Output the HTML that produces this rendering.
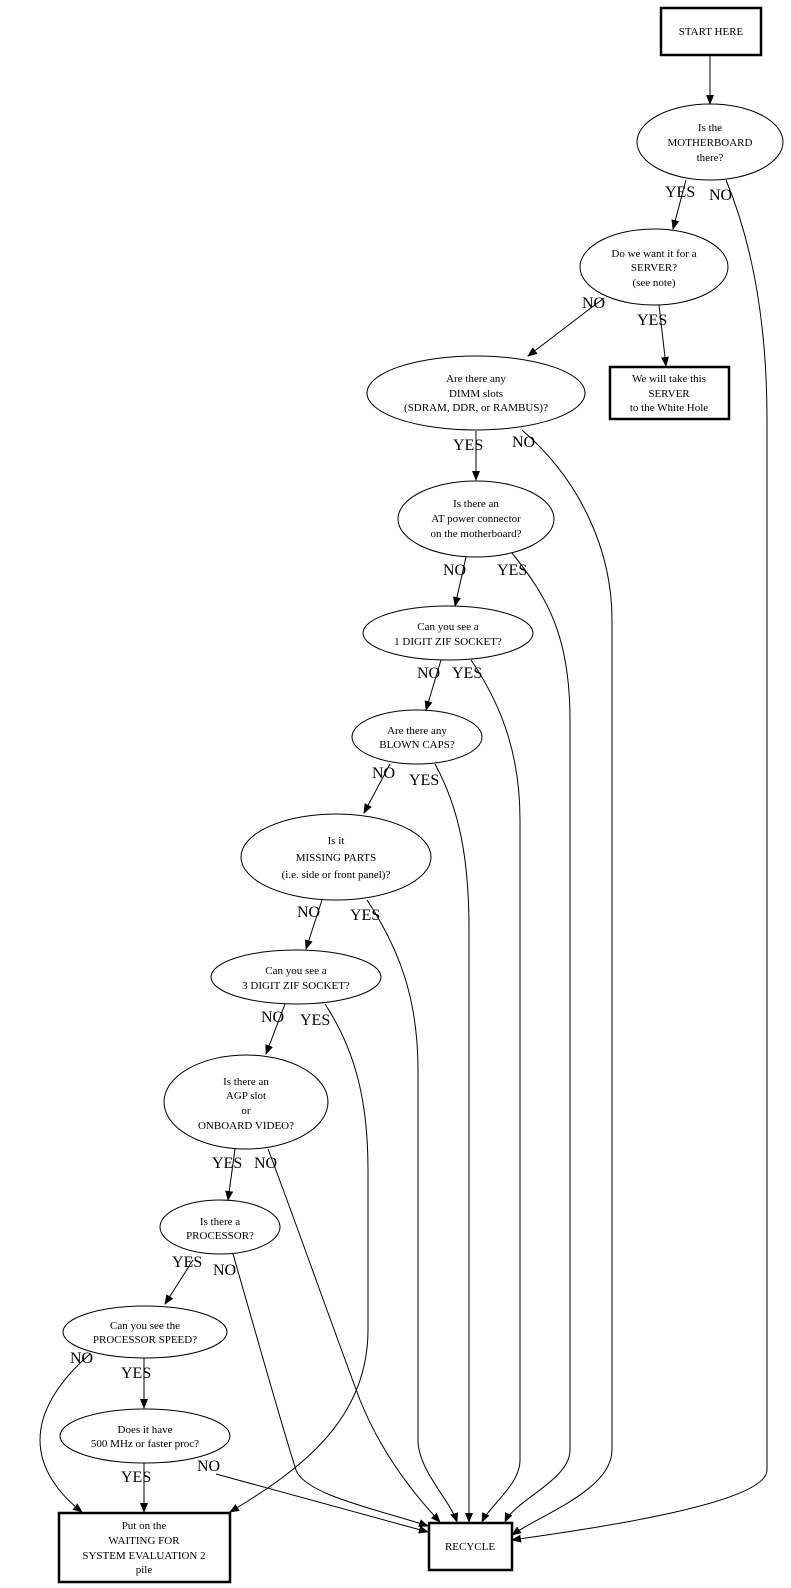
<!DOCTYPE html>
<html><head><meta charset="utf-8"><style>
html,body{margin:0;padding:0;background:#fff}
svg{display:block}
text{font-family:"Liberation Serif",serif;fill:#000}
.n{font-size:11px;text-anchor:middle}
.l{font-size:16px}
</style></head><body>
<svg width="791" height="1588" viewBox="0 0 791 1588" xmlns="http://www.w3.org/2000/svg">
<defs><marker id="a" markerWidth="10" markerHeight="8" refX="9" refY="4" orient="auto" markerUnits="userSpaceOnUse"><path d="M0,0 L10,4 L0,8 z" fill="#000"/></marker></defs>
<g fill="none" stroke="#000" stroke-width="1">
<!-- nodes -->
<rect x="661" y="8" width="100" height="47" stroke-width="2.5"/>
<ellipse cx="710" cy="142" rx="73" ry="38"/>
<ellipse cx="654" cy="267" rx="74" ry="38"/>
<rect x="610" y="367" width="119" height="52" stroke-width="2.5"/>
<ellipse cx="476" cy="393" rx="109" ry="37"/>
<ellipse cx="476" cy="519" rx="78" ry="38"/>
<ellipse cx="448" cy="633" rx="85" ry="27"/>
<ellipse cx="417" cy="737" rx="65" ry="27"/>
<ellipse cx="336" cy="857" rx="95" ry="43"/>
<ellipse cx="296" cy="977" rx="85" ry="27"/>
<ellipse cx="246" cy="1102" rx="82" ry="47"/>
<ellipse cx="220" cy="1227" rx="60" ry="27"/>
<ellipse cx="145" cy="1332" rx="82" ry="26"/>
<ellipse cx="145" cy="1436" rx="85" ry="27"/>
<rect x="59" y="1513" width="171" height="69" stroke-width="2.5"/>
<rect x="429" y="1523" width="83" height="47" stroke-width="2.5"/>
<!-- chain edges -->
<path d="M710,56 L710,104" marker-end="url(#a)"/>
<path d="M686,180 L673,229" marker-end="url(#a)"/>
<path d="M604,298 L528,356" marker-end="url(#a)"/>
<path d="M659,305 L666,366" marker-end="url(#a)"/>
<path d="M476,431 L476,480" marker-end="url(#a)"/>
<path d="M466,557 L455,606" marker-end="url(#a)"/>
<path d="M441,660 L426,710" marker-end="url(#a)"/>
<path d="M390,764 L364,813" marker-end="url(#a)"/>
<path d="M322,900 L306,949" marker-end="url(#a)"/>
<path d="M285,1004 L266,1054" marker-end="url(#a)"/>
<path d="M235,1149 L228,1200" marker-end="url(#a)"/>
<path d="M193,1260 L165,1304" marker-end="url(#a)"/>
<path d="M144,1358 L144,1408" marker-end="url(#a)"/>
<path d="M144,1463 L144,1512" marker-end="url(#a)"/>
<!-- to recycle -->
<path d="M726,180 C755,250 767,330 767,420 L767,1470 C767,1505 580,1530 512,1540" marker-end="url(#a)"/>
<path d="M522,430 C580,480 612,550 612,620 L612,1450 C612,1490 540,1515 512,1535" marker-end="url(#a)"/>
<path d="M512,553 C550,600 570,640 570,720 L570,1450 C570,1480 515,1500 505,1522" marker-end="url(#a)"/>
<path d="M471,660 C505,710 520,760 520,820 L520,1460 C520,1485 490,1505 482,1522" marker-end="url(#a)"/>
<path d="M435,764 C460,810 469,860 469,930 L469,1522" marker-end="url(#a)"/>
<path d="M367,900 C400,950 418,1000 418,1070 L418,1440 C418,1470 450,1500 457,1522" marker-end="url(#a)"/>
<path d="M268,1149 C295,1220 330,1320 360,1400 C380,1450 410,1490 440,1522" marker-end="url(#a)"/>
<path d="M233,1254 C255,1330 280,1420 296,1470 C305,1495 380,1510 428,1526" marker-end="url(#a)"/>
<path d="M216,1474 L428,1532" marker-end="url(#a)"/>
<path d="M325,1004 C355,1050 368,1100 368,1170 L368,1330 C368,1420 300,1470 230,1512" marker-end="url(#a)"/>
<path d="M90,1354 C60,1380 40,1410 40,1440 C40,1470 60,1495 82,1512" marker-end="url(#a)"/>
</g>
<!-- node text -->
<text class="n" x="711" y="35">START HERE</text>
<text class="n" x="710" y="131">Is the</text><text class="n" x="710" y="146">MOTHERBOARD</text><text class="n" x="710" y="161">there?</text>
<text class="n" x="654" y="257">Do we want it for a</text><text class="n" x="654" y="271">SERVER?</text><text class="n" x="654" y="286">(see note)</text>
<text class="n" x="669" y="382">We will take this</text><text class="n" x="669" y="397">SERVER</text><text class="n" x="669" y="411">to the White Hole</text>
<text class="n" x="476" y="382">Are there any</text><text class="n" x="476" y="397">DIMM slots</text><text class="n" x="476" y="411">(SDRAM, DDR, or RAMBUS)?</text>
<text class="n" x="476" y="507">Is there an</text><text class="n" x="476" y="522">AT power connector</text><text class="n" x="476" y="537">on the motherboard?</text>
<text class="n" x="448" y="630">Can you see a</text><text class="n" x="448" y="645">1 DIGIT ZIF SOCKET?</text>
<text class="n" x="417" y="734">Are there any</text><text class="n" x="417" y="748">BLOWN CAPS?</text>
<text class="n" x="336" y="844">Is it</text><text class="n" x="336" y="861">MISSING PARTS</text><text class="n" x="336" y="878">(i.e. side or front panel)?</text>
<text class="n" x="296" y="974">Can you see a</text><text class="n" x="296" y="989">3 DIGIT ZIF SOCKET?</text>
<text class="n" x="246" y="1085">Is there an</text><text class="n" x="246" y="1099">AGP slot</text><text class="n" x="246" y="1114">or</text><text class="n" x="246" y="1129">ONBOARD VIDEO?</text>
<text class="n" x="220" y="1225">Is there a</text><text class="n" x="220" y="1239">PROCESSOR?</text>
<text class="n" x="145" y="1329">Can you see the</text><text class="n" x="145" y="1343">PROCESSOR SPEED?</text>
<text class="n" x="145" y="1433">Does it have</text><text class="n" x="145" y="1447">500 MHz or faster proc?</text>
<text class="n" x="144" y="1529">Put on the</text><text class="n" x="144" y="1544">WAITING FOR</text><text class="n" x="144" y="1559">SYSTEM EVALUATION 2</text><text class="n" x="144" y="1573">pile</text>
<text class="n" x="470" y="1550">RECYCLE</text>
<!-- edge labels -->
<text class="l" x="665" y="197">YES</text><text class="l" x="709" y="200">NO</text>
<text class="l" x="582" y="308">NO</text><text class="l" x="637" y="325">YES</text>
<text class="l" x="453" y="450">YES</text><text class="l" x="512" y="447">NO</text>
<text class="l" x="443" y="575">NO</text><text class="l" x="497" y="575">YES</text>
<text class="l" x="417" y="678">NO</text><text class="l" x="452" y="678">YES</text>
<text class="l" x="372" y="778">NO</text><text class="l" x="409" y="785">YES</text>
<text class="l" x="297" y="917">NO</text><text class="l" x="350" y="920">YES</text>
<text class="l" x="261" y="1022">NO</text><text class="l" x="300" y="1025">YES</text>
<text class="l" x="212" y="1168">YES</text><text class="l" x="254" y="1168">NO</text>
<text class="l" x="172" y="1267">YES</text><text class="l" x="213" y="1275">NO</text>
<text class="l" x="70" y="1363">NO</text><text class="l" x="121" y="1378">YES</text>
<text class="l" x="121" y="1482">YES</text><text class="l" x="197" y="1471">NO</text>
</svg>
</body></html>
